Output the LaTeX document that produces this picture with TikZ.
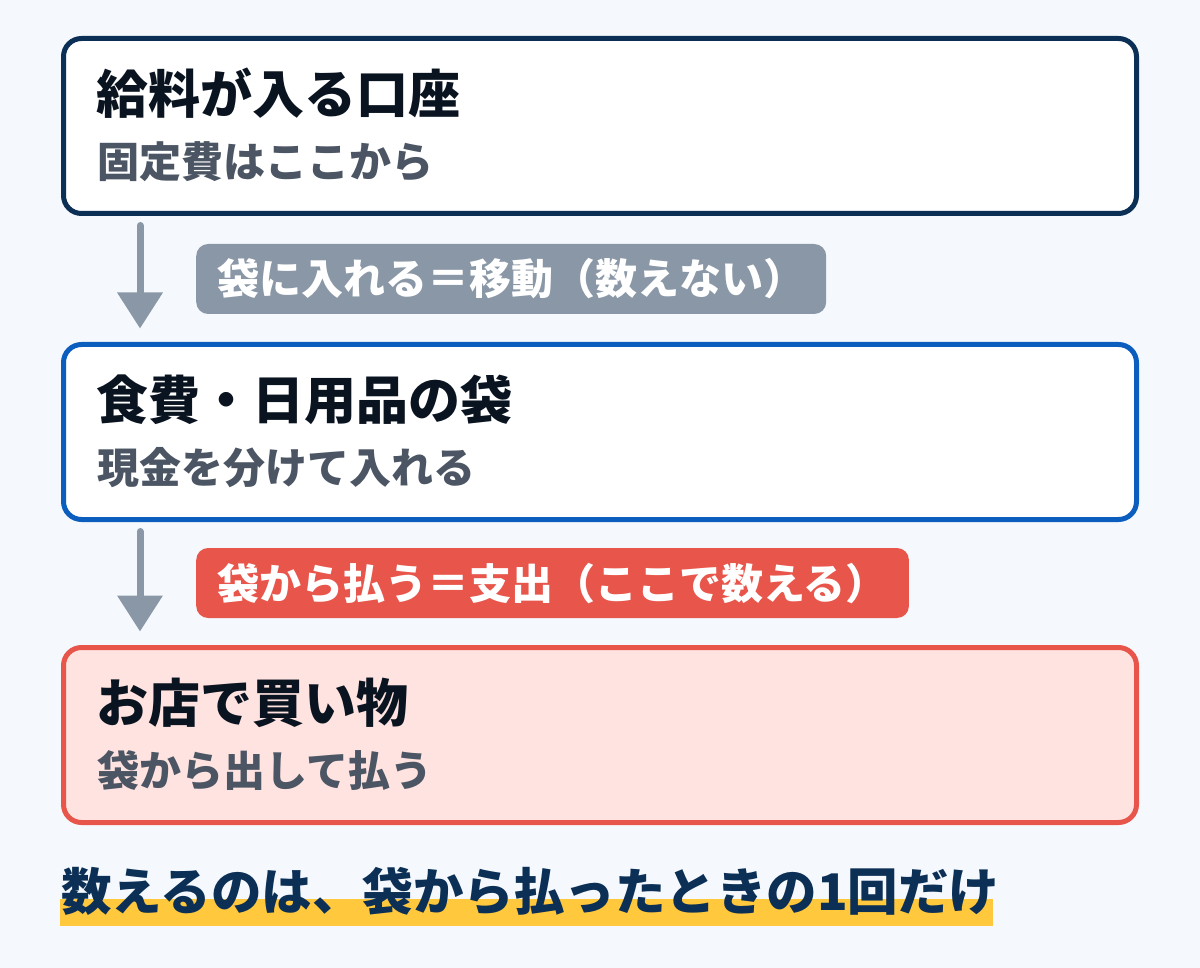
\documentclass[tikz,border=0pt]{standalone}
\usepackage{fontspec}
\setmainfont{Noto Sans CJK JP}
\newfontfamily\heavyjp{Noto Sans CJK JP Black}
\usetikzlibrary{arrows.meta,positioning}

\definecolor{pagebg}{HTML}{F5F9FE}
\definecolor{navy}{HTML}{0C2F55}
\definecolor{ink}{HTML}{0A1420}
\definecolor{subink}{HTML}{4B5563}
\definecolor{bagblue}{HTML}{0B5EBE}
\definecolor{flowgray}{HTML}{8A97A6}
\definecolor{payred}{HTML}{E8564B}
\definecolor{paypink}{HTML}{FFE3E0}
\definecolor{marker}{HTML}{FFC83D}

\tikzset{
  panel/.style={draw, line width=5pt, rounded corners=18pt, outer sep=0pt,
    inner sep=0pt, minimum width=1073pt, minimum height=175pt},
  headline/.style={inner sep=0pt, text=ink, font=\fontsize{52}{62}\heavyjp},
  subline/.style={inner sep=0pt, text=subink, font=\fontsize{42}{50}\selectfont\bfseries},
  tag/.style={rounded corners=12pt, inner xsep=21pt, inner ysep=0pt, minimum height=70pt,
    text=white, text height=35pt, text depth=3pt,
    font=\fontsize{42}{50}\selectfont\bfseries},
  flow/.style={draw=flowgray, line width=7pt, line cap=round,
    -{Triangle[width=44pt,length=36pt]}}
}

\begin{document}
\begin{tikzpicture}[x=1pt,y=-1pt]
  \fill[pagebg] (0,0) rectangle (1200,968);
  \useasboundingbox (0,0) rectangle (1200,968);

  % the three stages
  \node[panel, draw=navy, fill=white, anchor=north west] (acct) at (63.5,38.5) {};
  \node[panel, draw=bagblue, fill=white, below=131pt of acct] (bag) {};
  \node[panel, draw=payred, fill=paypink, below=128pt of bag] (shop) {};

  \node[headline, anchor=base west] (acctT) at ([shift={(33,75)}]acct.north west) {給料が入る口座};
  \node[subline, anchor=base west] (acctS) at ([shift={(34,139)}]acct.north west) {固定費はここから};
  \node[headline, anchor=base west] (bagT) at ([shift={(33,75)}]bag.north west) {食費・日用品の袋};
  \node[subline, anchor=base west] (bagS) at ([shift={(34,139)}]bag.north west) {現金を分けて入れる};
  \node[headline, anchor=base west] (shopT) at ([shift={(33,75)}]shop.north west) {お店で買い物};
  \node[subline, anchor=base west] (shopS) at ([shift={(34,139)}]shop.north west) {袋から出して払う};

  % arrows and their tags
  \draw[flow] ([shift={(76.5,12)}]acct.south west) -- ([shift={(76.5,-16)}]bag.north west);
  \draw[flow] ([shift={(76.5,12)}]bag.south west) -- ([shift={(76.5,-16)}]shop.north west);

  \node[tag, fill=flowgray, anchor=west] (moveTag) at ([shift={(132.5,65.5)}]acct.south west) {袋に入れる＝移動（数えない）};
  \node[tag, fill=payred, anchor=west] (spendTag) at ([shift={(132.5,63.5)}]bag.south west) {袋から払う＝支出（ここで数える）};

  % closing note
  \fill[marker] (60,899) rectangle (993,926);
  \node[inner sep=0pt, anchor=base west, text=navy, font=\fontsize{50.5}{60}\heavyjp]
    (note) at (61,910) {数えるのは、袋から払ったときの1回だけ};
\end{tikzpicture}
\end{document}
